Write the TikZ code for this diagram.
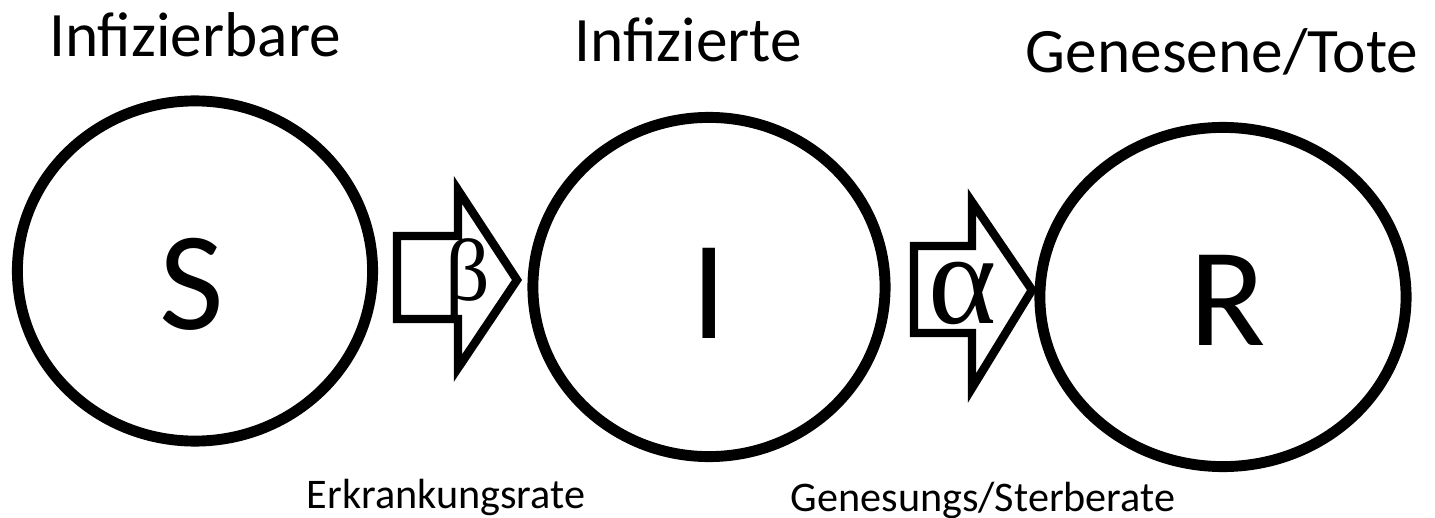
\documentclass[tikz,border=0pt]{standalone}
\usepackage{fontspec}
\setmainfont{Carlito}
\newfontfamily\greekfont{Liberation Serif}
\usetikzlibrary{shapes.geometric}

\begin{document}
\begin{tikzpicture}[x=0.01cm,y=-0.01cm,
 comp/.style={draw,ellipse,line width=3.1pt,inner sep=0pt},
 letter/.style={anchor=base,inner sep=0pt,font=\fontsize{40}{44}\selectfont},
 head/.style={anchor=base,inner sep=0pt,font=\fontsize{18}{20}\selectfont},
 rate/.style={anchor=base,inner sep=0pt,font=\fontsize{12}{14}\selectfont},
 flow/.style={draw,line width=2.4pt,line join=miter},
 greek/.style={inner sep=0pt}]
\useasboundingbox (0,0) rectangle (1435,518);
% compartments
\node[comp,minimum width=3.55cm,minimum height=3.40cm] (S) at (195,271) {};
\node[comp,minimum width=3.52cm,minimum height=3.39cm] (I) at (709,287) {};
\node[comp,minimum width=3.66cm,minimum height=3.39cm] (R) at (1223,297) {};
\node[letter] (Sl) at (192,330) {S};
\node[letter] (Il) at (709,338) {I};
\node[letter] (Rl) at (1228,345) {R};
% headings
\node[head] (hS) at (195,57) {Infizierbare};
\node[head] (hI) at (688,61) {Infizierte};
\node[head] (hR) at (1222,73) {Genesene/Tote};
% transfer arrows
\draw[flow] (397,236) -- (458,236) -- (458,190) -- (517,280) -- (458,368) -- (458,319) -- (397,319) -- cycle;
\node[greek] (beta) at (468,279) {\greekfont\fontsize{25}{28}\selectfont β};
\draw[flow] (914,246) -- (972,246) -- (972,202) -- (1032,290) -- (972,388) -- (972,333) -- (914,333) -- cycle;
\node[greek] (alpha) at (963,293) {\greekfont\fontsize{37}{40}\selectfont α};
% rates
\node[rate] (rb) at (446,508) {Erkrankungsrate};
\node[rate] (ra) at (983,511) {Genesungs/Sterberate};
\end{tikzpicture}
\end{document}
